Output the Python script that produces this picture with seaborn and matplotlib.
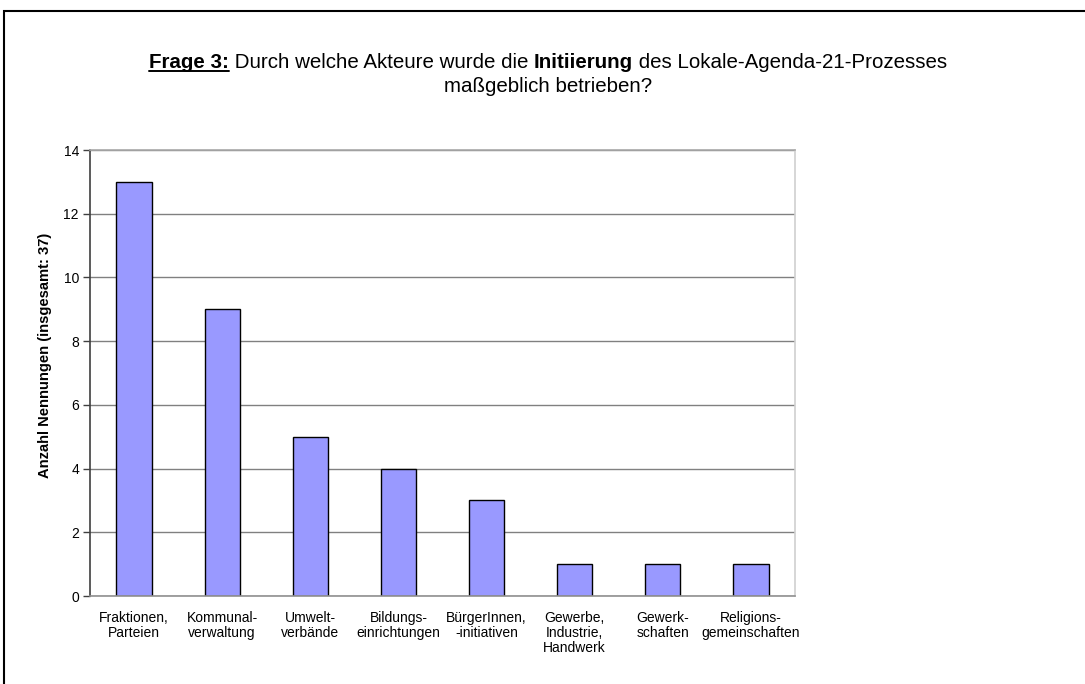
import matplotlib
matplotlib.use("Agg")
import matplotlib.pyplot as plt
import seaborn as sns
import pandas as pd
from matplotlib.patches import Rectangle
from matplotlib.lines import Line2D

categories = ["Fraktionen,\nParteien", "Kommunal-\nverwaltung", "Umwelt-\nverbände",
              "Bildungs-\neinrichtungen", "BürgerInnen,\n-initiativen",
              "Gewerbe,\nIndustrie,\nHandwerk", "Gewerk-\nschaften", "Religions-\ngemeinschaften"]
values = [13, 9, 5, 4, 3, 1, 1, 1]
yticks = [0, 2, 4, 6, 8, 10, 12, 14]
ylabel = "Anzahl Nennungen (insgesamt: 37)"
title_line1 = [("Frage 3:", "bold", True), (" Durch welche Akteure wurde die ", "normal", False),
               ("Initiierung", "bold", False), (" des Lokale-Agenda-21-Prozesses", "normal", False)]
title_line2 = "maßgeblich betrieben?"

sns.set_theme(style="white")
plt.rcParams['font.family'] = ['Liberation Sans', 'DejaVu Sans']
plt.rcParams['text.color'] = 'black'
plt.rcParams['axes.labelcolor'] = 'black'
plt.rcParams['xtick.color'] = 'black'
plt.rcParams['ytick.color'] = 'black'

W, H = 1085, 684
fig = plt.figure(figsize=(W / 100, H / 100), dpi=100)
fig.patch.set_facecolor("white")

# outer frame (top and left visible)
fig.patches.append(Rectangle((4 / W, -0.1), 1.2, 1 - 11 / H + 0.1, transform=fig.transFigure,
                             fill=False, edgecolor="black", linewidth=1.5))

ax = fig.add_axes([90 / W, 1 - 596 / H, (795 - 90) / W, (596 - 150) / H])
df = pd.DataFrame({"cat": categories, "val": values})
sns.barplot(data=df, x="cat", y="val", ax=ax, color="#9999FF", saturation=1,
            width=0.4, edgecolor="black", linewidth=1)

ax.set_ylim(0, 14)
ax.set_xlim(-0.5, len(categories) - 0.5)
ax.set_yticks(yticks)
ax.set_yticklabels([str(t) for t in yticks], fontsize=10)
ax.yaxis.grid(True, color="#808080", linewidth=1)
ax.set_axisbelow(True)
ax.tick_params(axis="y", left=True, length=5, width=1, color="#404040", pad=3, labelcolor="black")
ax.tick_params(axis="x", bottom=False, pad=5, labelsize=10, labelcolor="black")
for lbl in ax.get_xticklabels():
    lbl.set_linespacing(1.07)
ax.set_xlabel("")
ax.set_ylabel(ylabel, fontsize=10.6, fontweight="bold", va="center", ha="center", color="black")
ax.yaxis.set_label_coords(-0.064, 0.54)
for side, col in [("left", "#404040"), ("bottom", "#909090"), ("top", "#A8A8A8"), ("right", "#D0D0D0")]:
    ax.spines[side].set_visible(True)
    ax.spines[side].set_color(col)
    ax.spines[side].set_linewidth(1.2)

# title with mixed formatting
fig.canvas.draw()
renderer = fig.canvas.get_renderer()
fs_title = 14.8
y1 = 1 - 68 / H
texts = []
for s, w, ul in title_line1:
    t = fig.text(0, y1, s, fontsize=fs_title, fontweight=w, ha="left", va="baseline", color="black")
    texts.append((t, ul))
widths = [t.get_window_extent(renderer).width for t, _ in texts]
x = 548 - sum(widths) / 2
for (t, ul), wdt in zip(texts, widths):
    t.set_x(x / W)
    if ul:
        fig.lines.append(Line2D([x / W, (x + wdt) / W], [y1 - 3 / H, y1 - 3 / H],
                                transform=fig.transFigure, color="black", linewidth=1.4))
    x += wdt
fig.text(548 / W, 1 - 92 / H, title_line2, fontsize=fs_title, ha="center", va="baseline", color="black")

fig.savefig("out.png", dpi=100, facecolor="white")
